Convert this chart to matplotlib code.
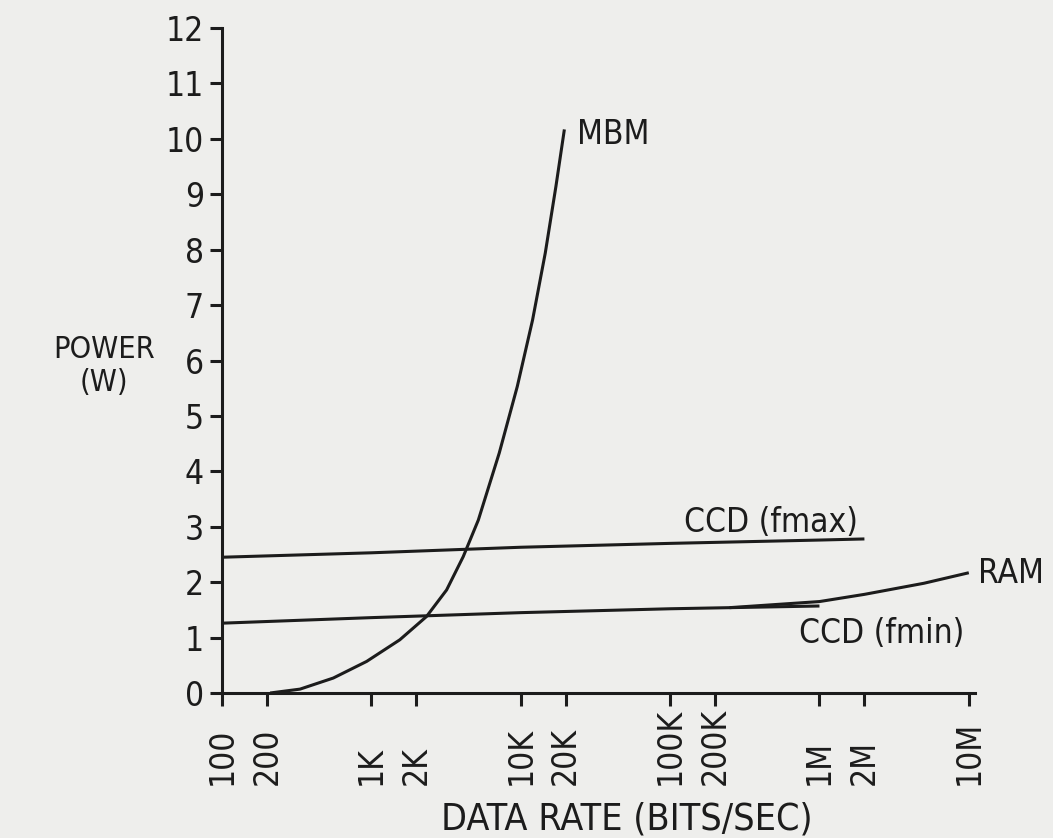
import matplotlib
matplotlib.use("Agg")
import matplotlib.pyplot as plt
from matplotlib import font_manager

# ---- data ----
tick_values = [100, 200, 1e3, 2e3, 1e4, 2e4, 1e5, 2e5, 1e6, 2e6, 1e7]
tick_labels = ["100", "200", "1K", "2K", "10K", "20K", "100K", "200K", "1M", "2M", "10M"]
y_ticks = list(range(0, 13))

mbm_x = [210, 333, 556, 930, 1550, 2340, 3190, 4120, 5200, 7180, 9480, 12000, 14600, 17200, 19600]
mbm_y = [0.0, 0.07, 0.27, 0.57, 0.96, 1.38, 1.86, 2.46, 3.12, 4.33, 5.53, 6.73, 7.94, 9.14, 10.17]

ccd_fmax_x = [100, 1e3, 1e4, 1e5, 1e6, 2e6]
ccd_fmax_y = [2.45, 2.53, 2.63, 2.70, 2.76, 2.78]

ccd_fmin_x = [100, 1e3, 1e4, 1e5, 1e6]
ccd_fmin_y = [1.26, 1.36, 1.45, 1.52, 1.57]

ram_x = [2.5e5, 1e6, 2e6, 5e6, 1e7]
ram_y = [1.54, 1.65, 1.78, 1.98, 2.17]

# ---- style ----
cond = [f for f in font_manager.fontManager.ttflist
        if "condensed" in str(f.stretch).lower() and f.style == "normal"
        and f.weight in (400, "normal", "regular", "book")]
if cond:
    cond.sort(key=lambda f: (0 if "Sans" in f.name else 1, f.name))
    plt.rcParams["font.family"] = [cond[0].name, "DejaVu Sans"]
    plt.rcParams["font.stretch"] = cond[0].stretch
else:
    plt.rcParams["font.family"] = ["DejaVu Sans"]

ink = "#1c1c1c"
paper = "#eeeeec"
lw = 2.2
fs = 24

fig = plt.figure(figsize=(10.53, 8.38), dpi=100, facecolor=paper)
W, H = 1053, 838
x0, x1 = 222, 975
y0, y1 = 693, 28
ax = fig.add_axes([x0 / W, 1 - y0 / H, (x1 - x0) / W, (y0 - y1) / H])
ax.set_facecolor(paper)

ax.set_xscale("log")
ax.set_xlim(100, 1.1e7)
ax.set_ylim(0, 12)

for s in ("top", "right"):
    ax.spines[s].set_visible(False)
for s in ("left", "bottom"):
    ax.spines[s].set_color(ink)
    ax.spines[s].set_linewidth(lw)

ax.set_yticks(y_ticks)
ax.set_yticklabels([str(v) for v in y_ticks], fontsize=fs, color=ink)
ax.tick_params(axis="y", direction="out", length=9, width=lw, color=ink, pad=4)

ax.set_xticks(tick_values)
ax.set_xticklabels([""] * len(tick_values))
ax.xaxis.set_minor_locator(matplotlib.ticker.NullLocator())
ax.tick_params(axis="x", direction="out", length=9, width=lw, color=ink)

xt = ax.get_xaxis_transform()
label_bottom = -(785 - y0) / (y0 - y1)
for v, lab in zip(tick_values, tick_labels):
    ax.text(v, label_bottom, lab, transform=xt, rotation=90, ha="center", va="bottom",
            fontsize=fs, color=ink, clip_on=False)

# curves
kw = dict(color=ink, lw=lw, solid_capstyle="butt", solid_joinstyle="round", clip_on=False)
ax.plot(mbm_x, mbm_y, **kw)
ax.plot(ccd_fmax_x, ccd_fmax_y, **kw)
ax.plot(ccd_fmin_x, ccd_fmin_y, **kw)
ax.plot(ram_x, ram_y, **kw)

# curve labels
ax.text(2.38e4, 10.07, "MBM", fontsize=fs, color=ink, ha="left", va="center")
ax.text(1.23e5, 2.9, "CCD (fmax)", fontsize=fs, color=ink, ha="left", va="baseline")
ax.text(7.3e5, 0.90, "CCD (fmin)", fontsize=fs, color=ink, ha="left", va="baseline")
ax.text(1.15e7, 2.15, "RAM", fontsize=fs, color=ink, ha="left", va="center", clip_on=False)

# axis titles
fig.text(104 / W, 1 - 366 / H, "POWER\n(W)", fontsize=22, color=ink, ha="center", va="center",
         linespacing=1.15)
fig.text(627 / W, 1 - 819 / H, "DATA RATE (BITS/SEC)", fontsize=27, color=ink,
         ha="center", va="center")

fig.savefig("out.png", dpi=100, facecolor=paper)
